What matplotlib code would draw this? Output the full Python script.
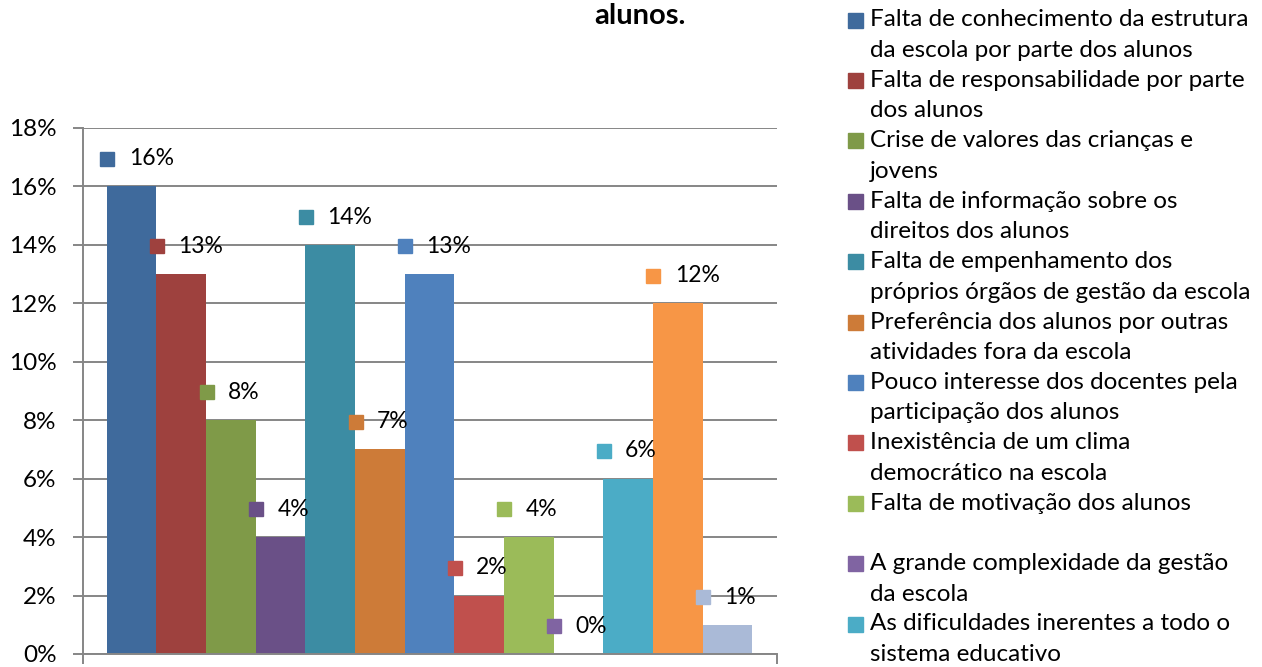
"""bar chart with boxed data labels and a hand-built legend"""
import matplotlib
matplotlib.use('Agg')
import matplotlib.pyplot as plt
from matplotlib.patches import Rectangle
from matplotlib.ticker import FuncFormatter

plt.rcParams['font.family'] = ['Lato', 'DejaVu Sans']

# data
values = [16, 13, 8, 4, 14, 7, 13, 2, 4, 0, 6, 12, 1]   # percent
colors = ['#3F6A9C', '#9E413E', '#7F9A48', '#6A5087', '#3C8CA3', '#CD7B38',
          '#4F81BD', '#C0504D', '#9BBB59', '#8064A2', '#4BACC6', '#F79646',
          '#AABAD7']
legendLabels = [
  'Falta de conhecimento da estrutura\nda escola por parte dos alunos',
  'Falta de responsabilidade por parte\ndos alunos',
  'Crise de valores das crianças e\njovens',
  'Falta de informação sobre os\ndireitos dos alunos',
  'Falta de empenhamento dos\npróprios órgãos de gestão da escola',
  'Preferência dos alunos por outras\natividades fora da escola',
  'Pouco interesse dos docentes pela\nparticipação dos alunos',
  'Inexistência de um clima\ndemocrático na escola',
  'Falta de motivação dos alunos\n',
  'A grande complexidade da gestão\nda escola',
  'As dificuldades inerentes a todo o\nsistema educativo',
]
yTicks = [0, 2, 4, 6, 8, 10, 12, 14, 16, 18]

W, H = 1262, 667
fig = plt.figure(figsize=(W/100, H/100), dpi=100)
ax = fig.add_axes([83/W, 1-654/H, (777-83)/W, (654-128)/H])

x = list(range(len(values)))
ax.bar(x, values, width=1.0, color=colors, zorder=2)
ax.set_xlim(-0.98, 13.0)
ax.set_ylim(0, 18)

# grid and axes in excel grey
grey = '#868686'
ax.set_yticks(yTicks)
ax.yaxis.set_major_formatter(FuncFormatter(lambda v, p: f'{v:.0f}%'))
ax.grid(axis='y', color=grey, linewidth=1.4, zorder=0)
ax.tick_params(axis='y', length=7, width=1.4, color=grey, pad=12, labelsize=17.5)
ax.set_xticks([-0.98, 13.0])
ax.set_xticklabels([])
ax.tick_params(axis='x', length=7, width=1.4, color=grey)
for side in ['top', 'right']:
  ax.spines[side].set_visible(False)
for side in ['left', 'bottom']:
  ax.spines[side].set_color(grey)
  ax.spines[side].set_linewidth(1.4)

# data labels: legend key square + value
for i, v in enumerate(values):
  ax.plot(i - 0.49, v + 0.95, marker='s', markersize=10.5, color=colors[i],
          linestyle='none', zorder=4, clip_on=False)
  ax.text(i - 0.06, v + 0.95, f'{v}%', fontsize=16.5, va='center', ha='left', zorder=4)

# title (only last line visible)
fig.text(640/W, 1-16/H, 'alunos.', fontsize=21, fontweight='bold', ha='center', va='center')

# legend drawn by hand so the key lines up with the first text line
step, lineH = 60.4, 30.5
for k, lab in enumerate(legendLabels):
  y0 = 20 + step*k
  fig.patches.append(Rectangle((848/W, 1-(y0+7.5)/H), 15/W, 15/H,
                               transform=fig.transFigure, color=colors[k]))
  for j, line in enumerate(lab.split('\n')):
    fig.text(870/W, 1-(y0 + j*lineH)/H, line, fontsize=17.5, va='center', ha='left')

plt.savefig('out.png', dpi=100)
